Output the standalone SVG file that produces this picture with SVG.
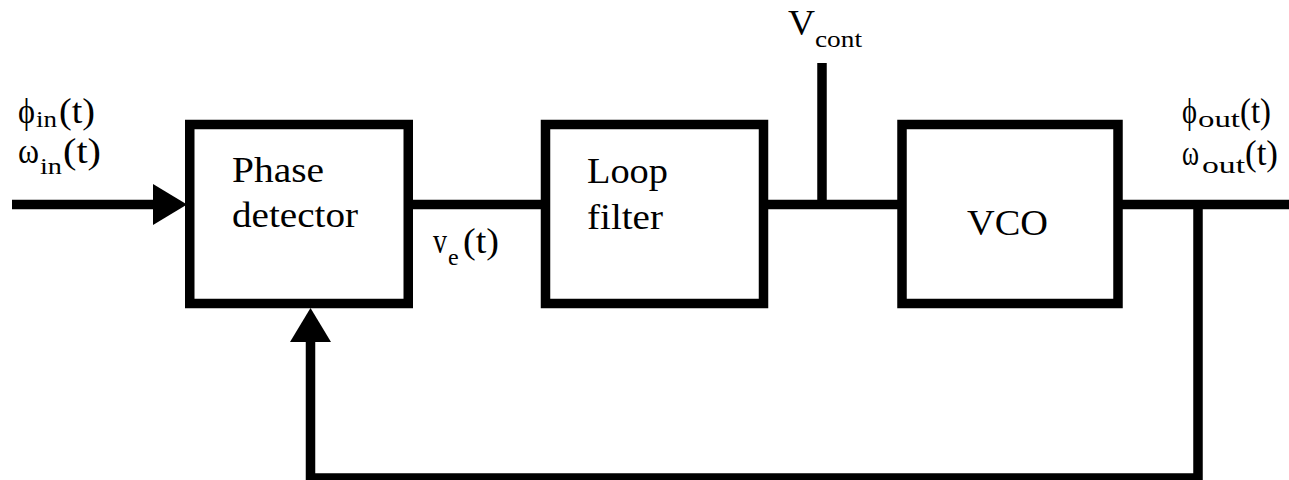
<svg xmlns="http://www.w3.org/2000/svg" width="1289" height="480" viewBox="0 0 1289 480">
<style>
.box{fill:#fff;stroke:#000;stroke-width:9.5}
.wire{fill:none;stroke:#000;stroke-width:9.5;stroke-linejoin:miter;stroke-linecap:butt}
.t{font-size:35px}
.s{font-size:24px}
</style>
<defs>
<marker id="ah" markerUnits="userSpaceOnUse" markerWidth="34" markerHeight="41" refX="7" refY="20.5" orient="auto" overflow="visible">
<path d="M0,0 L34,20.5 L0,41 Z" fill="#000"/>
</marker>
</defs>
<rect width="1289" height="480" fill="#fff"/>
<g id="connectors">
<path class="wire" d="M12,204.5 H160" marker-end="url(#ah)"/>
<path class="wire" d="M413,204.5 H541"/>
<path class="wire" d="M768,204.5 H898"/>
<path class="wire" d="M1122,204.5 H1289"/>
<path class="wire" d="M822,63 V204.5"/>
<path class="wire" d="M1198,204.5 V478 H310.5 V335" marker-end="url(#ah)"/>
</g>
<g font-family="Liberation Serif" fill="#000">
<g id="phase-detector">
<rect class="box" x="189.75" y="124.5" width="218.5" height="179"/>
<text class="t" x="232" y="182" textLength="92" lengthAdjust="spacingAndGlyphs">Phase</text>
<text class="t" x="232" y="227" textLength="126" lengthAdjust="spacingAndGlyphs">detector</text>
</g>
<g id="loop-filter">
<rect class="box" x="545.5" y="124.5" width="218" height="179"/>
<text class="t" x="587" y="183" textLength="81" lengthAdjust="spacingAndGlyphs">Loop</text>
<text class="t" x="587" y="229" textLength="76" lengthAdjust="spacingAndGlyphs">filter</text>
</g>
<g id="vco">
<rect class="box" x="902" y="124.5" width="216" height="179"/>
<text class="t" x="967" y="235" textLength="81" lengthAdjust="spacingAndGlyphs">VCO</text>
</g>
<g id="labels">
<text class="t" x="18" y="123" textLength="17" lengthAdjust="spacingAndGlyphs">ϕ</text>
<text class="s" x="36" y="127" textLength="21" lengthAdjust="spacingAndGlyphs">in</text>
<text class="t" x="59" y="123" textLength="36" lengthAdjust="spacingAndGlyphs">(t)</text>
<text class="t" x="18" y="163" textLength="21" lengthAdjust="spacingAndGlyphs">ω</text>
<text class="s" x="40" y="174" textLength="22" lengthAdjust="spacingAndGlyphs">in</text>
<text class="t" x="63" y="163" textLength="38" lengthAdjust="spacingAndGlyphs">(t)</text>
<text class="t" x="1182" y="123" textLength="15" lengthAdjust="spacingAndGlyphs">ϕ</text>
<text class="s" x="1198" y="127" textLength="42" lengthAdjust="spacingAndGlyphs">out</text>
<text class="t" x="1240" y="123" textLength="31" lengthAdjust="spacingAndGlyphs">(t)</text>
<text class="t" x="1182" y="165" textLength="17" lengthAdjust="spacingAndGlyphs">ω</text>
<text class="s" x="1202" y="173" textLength="43" lengthAdjust="spacingAndGlyphs">out</text>
<text class="t" x="1245" y="165" textLength="33" lengthAdjust="spacingAndGlyphs">(t)</text>
<text class="t" x="433" y="253" textLength="14" lengthAdjust="spacingAndGlyphs">v</text>
<text class="s" x="448" y="265">e</text>
<text class="t" x="463" y="253" textLength="36" lengthAdjust="spacingAndGlyphs">(t)</text>
<text class="t" x="788" y="35" textLength="27" lengthAdjust="spacingAndGlyphs">V</text>
<text class="s" x="815" y="47" textLength="47" lengthAdjust="spacingAndGlyphs">cont</text>
</g>
</g>
</svg>
